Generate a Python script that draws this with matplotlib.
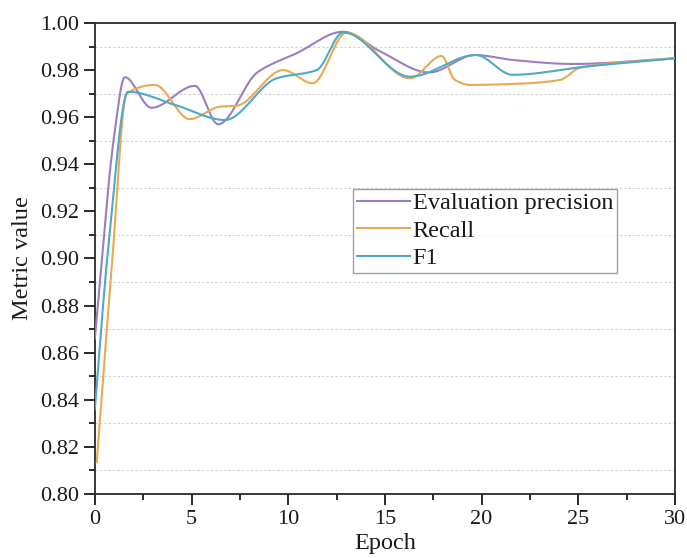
import numpy as np
import matplotlib
matplotlib.use("Agg")
import matplotlib.pyplot as plt
from matplotlib.ticker import MultipleLocator, FormatStrFormatter

plt.rcParams['font.family'] = ['Liberation Serif', 'DejaVu Serif']

# Evaluation precision
prec_epoch = [0, 1.0, 1.55, 2.93, 5.17, 6.38, 8.4, 10.4, 12.85, 14.74, 17.3, 19.66, 21.6,
              24.7, 30]
prec_value = [0.866, 0.952, 0.977, 0.964, 0.9733, 0.957, 0.979, 0.987, 0.9963, 0.988,
              0.979, 0.9864, 0.9843, 0.9826, 0.985]

# Recall
rec_epoch = [0.1, 0.9, 1.65, 3.1, 4.91, 6.5, 7.3, 9.74, 11.26, 13.02, 16.3, 17.93, 18.62,
             19.4, 21.6, 24.05, 25.1, 30]
rec_value = [0.8135, 0.899, 0.970, 0.9737, 0.9592, 0.9645, 0.9648, 0.980, 0.9744, 0.9959,
             0.9765, 0.986, 0.9758, 0.9737, 0.9741, 0.9758, 0.981, 0.985]

# F1
f1_epoch = [0, 0.7, 1.72, 4.22, 6.72, 9.4, 11.47, 12.85, 16.3, 19.7, 21.6, 25.4, 30]
f1_value = [0.836, 0.905, 0.9708, 0.965, 0.9588, 0.9765, 0.980, 0.996, 0.9772, 0.9864,
            0.978, 0.9815, 0.985]

series_names = ["Evaluation precision", "Recall", "F1"]
series_colors = ["#9A7EC2", "#EBA852", "#4EA9C6"]


def pchip_curve(x, y, n=800):
    """Shape-preserving cubic curve through the points, for a smooth line."""
    x = np.asarray(x, float)
    y = np.asarray(y, float)
    h = np.diff(x)
    d = np.diff(y) / h
    m = np.zeros_like(y)
    for k in range(1, len(x) - 1):
        if d[k - 1] * d[k] > 0:
            w1 = 2 * h[k] + h[k - 1]
            w2 = h[k] + 2 * h[k - 1]
            m[k] = (w1 + w2) / (w1 / d[k - 1] + w2 / d[k])
    m[0] = d[0]
    m[-1] = d[-1]
    xs = np.linspace(x[0], x[-1], n)
    idx = np.clip(np.searchsorted(x, xs) - 1, 0, len(x) - 2)
    t = (xs - x[idx]) / h[idx]
    h00 = 2 * t**3 - 3 * t**2 + 1
    h10 = t**3 - 2 * t**2 + t
    h01 = -2 * t**3 + 3 * t**2
    h11 = t**3 - t**2
    ys = h00 * y[idx] + h10 * h[idx] * m[idx] + h01 * y[idx + 1] + h11 * h[idx] * m[idx + 1]
    return xs, ys


fig = plt.figure(figsize=(6.87, 5.58), dpi=100)
ax = fig.add_axes([0.138, 0.1147, 0.8445, 0.8441])

for ex, vy, name, col in zip([prec_epoch, rec_epoch, f1_epoch],
                             [prec_value, rec_value, f1_value],
                             series_names, series_colors):
    xs, ys = pchip_curve(ex, vy)
    ax.plot(xs, ys, color=col, lw=1.5, label=name, zorder=3)

ax.set_xlim(0, 30)
ax.set_ylim(0.80, 1.00)
ax.xaxis.set_major_locator(MultipleLocator(5))
ax.xaxis.set_minor_locator(MultipleLocator(2.5))
ax.yaxis.set_major_locator(MultipleLocator(0.02))
ax.yaxis.set_minor_locator(MultipleLocator(0.01))
ax.yaxis.set_major_formatter(FormatStrFormatter('%.2f'))

# dotted grid on the odd hundredths
for gv in np.arange(0.81, 1.0, 0.02):
    ax.axhline(gv, color="#cfcfcf", lw=0.8, ls=(0, (2, 2)), zorder=1)

ax.tick_params(axis='both', which='major', direction='out', length=8, width=1.3,
               labelsize=16, colors='#1a1a1a', labelcolor='#1a1a1a')
ax.tick_params(axis='both', which='minor', direction='out', length=4, width=1.3,
               colors='#1a1a1a')
for s in ax.spines.values():
    s.set_linewidth(1.3)
    s.set_color('#2a2a2a')

ax.set_xlabel("Epoch", fontsize=17.5, labelpad=3, color='#1a1a1a')
ax.set_ylabel("Metric value", fontsize=17.5, labelpad=5, color='#1a1a1a')

leg = ax.legend(loc='upper left', bbox_to_anchor=(0.445, 0.648), fontsize=17.5,
                frameon=True, fancybox=False, borderaxespad=0, borderpad=0.15,
                handlelength=2.2, handletextpad=0.1, labelspacing=0.22)
leg.get_frame().set_edgecolor('#888888')
leg.get_frame().set_linewidth(1.0)
for t in leg.get_texts():
    t.set_color('#1a1a1a')

fig.savefig("out.png", dpi=100)
